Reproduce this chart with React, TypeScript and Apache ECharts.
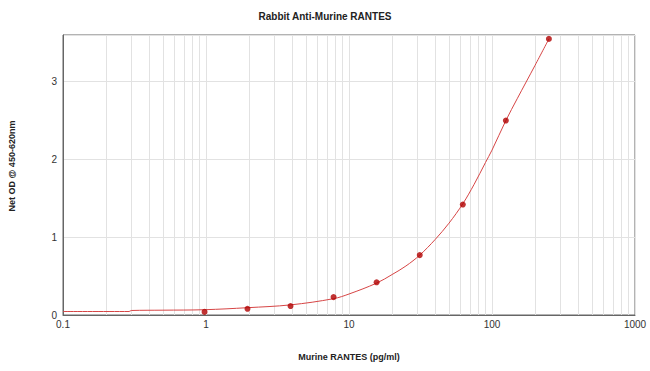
import React, { useEffect, useRef } from "react";
import * as echarts from "echarts";

const title = "Rabbit Anti-Murine RANTES";
const xName = "Murine RANTES (pg/ml)";
const yName = "Net OD @ 450-620nm";

const standardConc = [0.977, 1.95, 3.9, 7.8, 15.6, 31.25, 62.5, 125, 250];
const standardOD = [0.04, 0.08, 0.115, 0.23, 0.42, 0.77, 1.42, 2.5, 3.55];

const curveConc = [0.1, 0.29, 0.3, 0.5, 0.977, 1.95, 3.9, 7.8, 10, 15.6, 20, 25, 31.25, 40, 50, 62.5, 75, 90, 100, 125, 150, 200, 250];
const curveOD = [0.045, 0.045, 0.058, 0.062, 0.068, 0.094, 0.13, 0.21, 0.27, 0.41, 0.52, 0.63, 0.77, 0.97, 1.18, 1.43, 1.68, 1.96, 2.12, 2.5, 2.78, 3.21, 3.55];

const minorGridX = [
  0.2, 0.3, 0.4, 0.5, 0.6, 0.7, 0.8, 0.9,
  2, 3, 4, 5, 6, 7, 8, 9,
  20, 30, 40, 50, 60, 70, 80, 90,
  200, 300, 400, 500, 600, 700, 800, 900,
];

export default function App() {
  const ref = useRef<HTMLDivElement>(null);
  useEffect(() => {
    if (!ref.current) return;
    const chart = echarts.init(ref.current, null, { renderer: "svg" });
    const labelColor = "#333";
    const font = "Arial, 'Liberation Sans', sans-serif";
    chart.setOption({
      animation: false,
      backgroundColor: "#fff",
      title: {
        text: title,
        left: "center",
        top: 6,
        textStyle: { fontSize: 10, fontWeight: "bold", color: "#222", fontFamily: font },
      },
      graphic: [
        {
          type: "text",
          x: 12,
          y: 166,
          rotation: Math.PI / 2,
          style: {
            text: yName,
            align: "center",
            verticalAlign: "middle",
            font: `bold 9px ${font}`,
            fill: "#222",
          },
        },
      ],
      grid: {
        left: 63,
        right: 15,
        top: 35,
        bottom: 56,
        show: true,
        borderColor: "#666",
        borderWidth: 1,
        backgroundColor: "#fff",
      },
      xAxis: {
        type: "log",
        logBase: 10,
        min: 0.1,
        max: 1000,
        name: xName,
        nameLocation: "middle",
        nameGap: 37,
        nameTextStyle: { fontSize: 9, fontWeight: "bold", color: "#222", fontFamily: font },
        axisLine: { show: true, lineStyle: { color: "#666" } },
        axisTick: { show: false },
        axisLabel: {
          color: labelColor,
          fontSize: 10,
          margin: 4,
          fontFamily: font,
          formatter: (v: number) => String(Number(v.toPrecision(6))),
        },
        splitLine: { show: true, lineStyle: { color: "#e2e2e2", width: 1 } },
      },
      yAxis: {
        type: "value",
        min: 0,
        max: 3.6,
        interval: 1,
        axisLine: { show: true, lineStyle: { color: "#666" } },
        axisTick: { show: false },
        axisLabel: {
          color: labelColor,
          fontSize: 10,
          margin: 6,
          fontFamily: font,
          showMaxLabel: false,
        },
        splitLine: { show: true, lineStyle: { color: "#e2e2e2", width: 1 } },
      },
      series: [
        {
          type: "line",
          data: curveConc.map((c, i) => [c, curveOD[i]]),
          smooth: 0.35,
          showSymbol: false,
          symbol: "none",
          lineStyle: { color: "#d64545", width: 1 },
          z: 3,
          markLine: {
            silent: true,
            symbol: "none",
            label: { show: false },
            lineStyle: { color: "#e2e2e2", width: 1, type: "solid" },
            data: minorGridX.map((v) => ({ xAxis: v })),
            z: 1,
          },
        },
        {
          type: "scatter",
          data: standardConc.map((c, i) => [c, standardOD[i]]),
          symbol: "circle",
          symbolSize: 6,
          itemStyle: { color: "#b00000" },
          z: 4,
        },
      ],
    });
    return () => chart.dispose();
  }, []);
  return (
    <div
      ref={ref}
      style={{ position: "absolute", left: 0, top: 0, width: 650, height: 371 }}
    />
  );
}
